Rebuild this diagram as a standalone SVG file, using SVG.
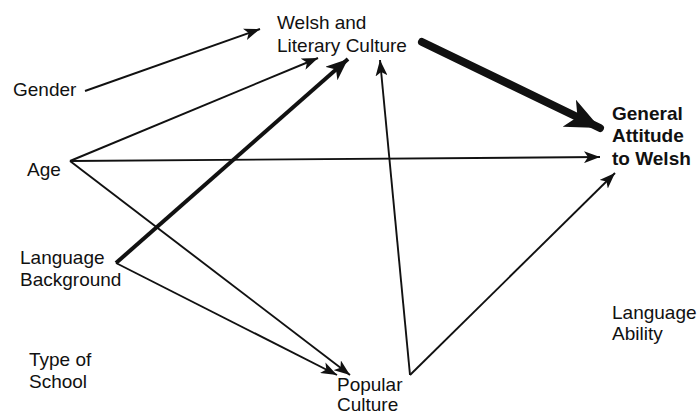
<svg xmlns="http://www.w3.org/2000/svg" width="700" height="415" viewBox="0 0 700 415">
<defs>
<style>
text{font-family:"Liberation Sans",Arial,sans-serif;font-size:19px;fill:#111}
.b{font-weight:bold}
.c line{stroke:#111;fill:none}
.t{stroke-width:1.9}
</style>
<marker id="a" markerUnits="userSpaceOnUse" markerWidth="17" markerHeight="12" refX="16" refY="6" orient="auto"><path d="M0,0 L16,6 L0,12 L4,6 z" fill="#111"/></marker>
<marker id="a2" markerUnits="userSpaceOnUse" markerWidth="24" markerHeight="18" refX="22" refY="9" orient="auto"><path d="M0,0 L22,9 L0,18 L6,9 z" fill="#111"/></marker>
<marker id="a3" markerUnits="userSpaceOnUse" markerWidth="36" markerHeight="30" refX="34" refY="15" orient="auto"><path d="M0,0 L34,15 L0,30 L9,15 z" fill="#111"/></marker>
</defs>
<g class="c">
<line class="t" x1="85" y1="91" x2="260" y2="29" marker-end="url(#a)"/>
<line class="t" x1="70" y1="161" x2="318" y2="58" marker-end="url(#a)"/>
<line class="t" x1="70" y1="161" x2="600" y2="157" marker-end="url(#a)"/>
<line class="t" x1="70" y1="161" x2="350" y2="375" marker-end="url(#a)"/>
<line class="t" x1="116" y1="263" x2="337" y2="375" marker-end="url(#a)"/>
<line x1="116" y1="263" x2="348" y2="59" stroke-width="4" marker-end="url(#a2)"/>
<line class="t" x1="410" y1="375" x2="380" y2="60" marker-end="url(#a)"/>
<line class="t" x1="410" y1="375" x2="615" y2="173" marker-end="url(#a)"/>
<line x1="422" y1="42" x2="600" y2="128" stroke-width="8" stroke-linecap="round" marker-end="url(#a3)"/>
</g>
<g id="welsh"><text x="277" y="29">Welsh and</text><text x="277" y="52">Literary Culture</text></g>
<g id="gender"><text x="13" y="96">Gender</text></g>
<g id="age"><text x="27" y="176">Age</text></g>
<g id="langbg"><text x="20" y="264">Language</text><text x="20" y="286">Background</text></g>
<g id="school"><text x="29" y="366">Type of</text><text x="29" y="388">School</text></g>
<g id="popular"><text x="337" y="391">Popular</text><text x="337" y="411">Culture</text></g>
<g id="attitude"><text class="b" x="612" y="120">General</text><text class="b" x="612" y="142">Attitude</text><text class="b" x="612" y="165">to Welsh</text></g>
<g id="ability"><text x="612" y="319">Language</text><text x="612" y="340">Ability</text></g>
</svg>
